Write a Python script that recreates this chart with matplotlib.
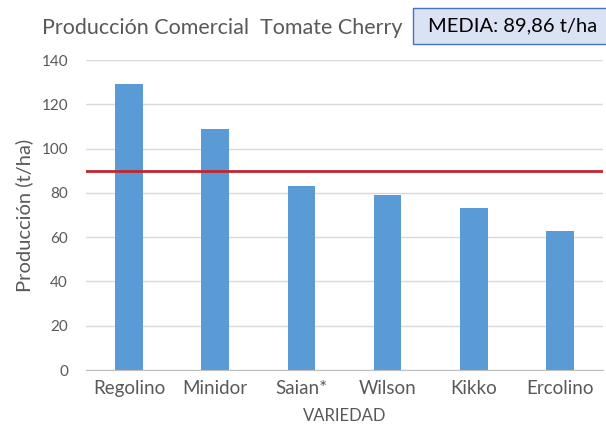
import matplotlib
matplotlib.use("Agg")
import matplotlib.pyplot as plt
from matplotlib.patches import Rectangle

categories = ["Regolino", "Minidor", "Saian*", "Wilson", "Kikko", "Ercolino"]
values = [129, 109, 83, 79, 73, 63]
media = 89.86
yticks = [0, 20, 40, 60, 80, 100, 120, 140]

plt.rcParams['font.family'] = ['Lato', 'DejaVu Sans']
W, H = 606, 426
fig = plt.figure(figsize=(W/100, H/100), dpi=100)
ax = fig.add_axes([86/W, 1-370/H, 517/W, 310/H])

x = list(range(len(categories)))
ax.bar(x, values, width=0.32, color="#5b9bd5", zorder=3)
ax.axhline(media, color="#c0272d", linewidth=2, zorder=4)

ax.set_xlim(-0.5, len(categories) - 0.5)
ax.set_ylim(0, 140)
ax.set_yticks(yticks)
ax.set_yticklabels([str(t) for t in yticks], fontsize=11, color="#595959")
ax.set_xticks(x)
ax.set_xticklabels(categories, fontsize=13.5, color="#595959")
ax.tick_params(axis='both', length=0)
ax.tick_params(axis='x', pad=7)
ax.tick_params(axis='y', pad=13)
ax.grid(axis='y', color="#d9d9d9", linewidth=1, zorder=0)
for s in ["top", "right", "left"]:
    ax.spines[s].set_visible(False)
ax.spines["bottom"].set_color("#bfbfbf")
ax.spines["bottom"].set_zorder(5)

ax.set_ylabel("Producción (t/ha)", fontsize=14.5, color="#595959", labelpad=6)
ax.set_xlabel("VARIEDAD", fontsize=12, color="#595959", labelpad=8)

fig.text(222/W, 1-28/H, "Producción Comercial  Tomate Cherry", fontsize=15.5,
         color="#595959", ha="center", va="center")
fig.add_artist(Rectangle((413/W, 1-44/H), 200/W, 36/H, transform=fig.transFigure,
                         facecolor="#dae3f3", edgecolor="#4472c4", linewidth=1))
fig.text(513/W, 1-26/H, "MEDIA: 89,86 t/ha", fontsize=14.5, color="black",
         ha="center", va="center")

fig.savefig("out.png", dpi=100)
